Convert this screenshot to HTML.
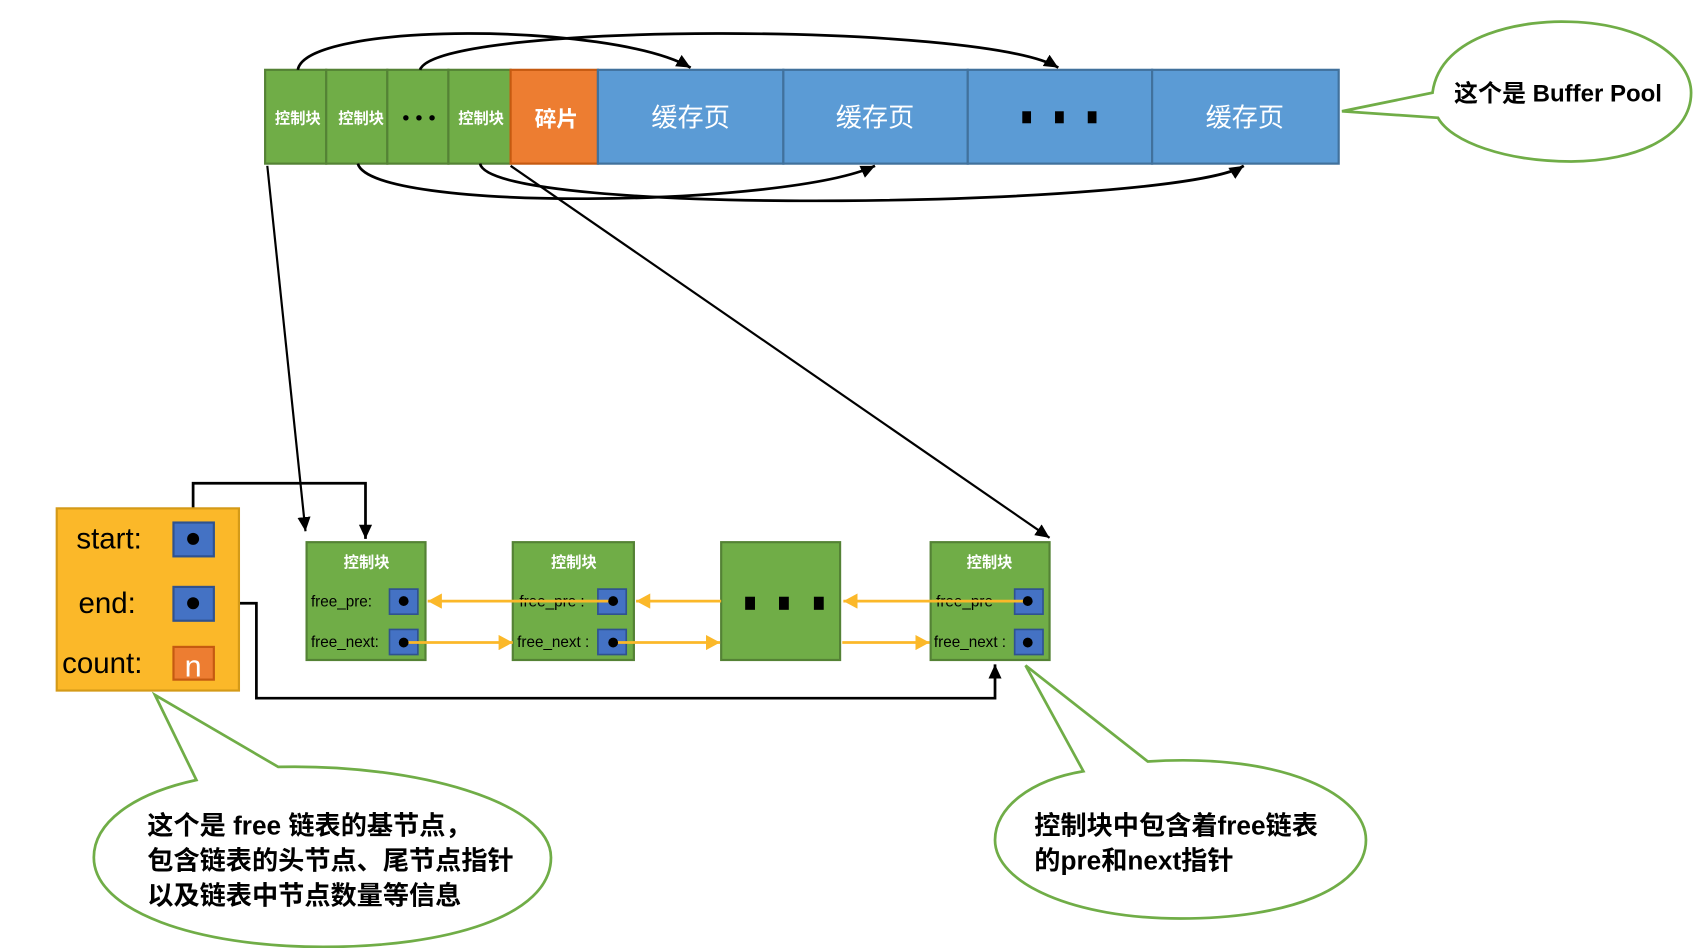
<!DOCTYPE html>
<html><head><meta charset="utf-8"><style>
html,body{margin:0;padding:0;background:#fff;}
svg{display:block;}
text{font-family:"Liberation Sans","Noto Sans CJK SC",sans-serif;}
</style></head><body>
<svg width="1702" height="948" viewBox="0 0 1560 869" preserveAspectRatio="none" xmlns="http://www.w3.org/2000/svg">
<defs>
<marker id="ab" markerWidth="14" markerHeight="14" refX="13" refY="6" orient="auto" markerUnits="userSpaceOnUse"><path d="M0,0 L13,6 L0,12 z" fill="#000"/></marker>
<marker id="ay" markerWidth="14" markerHeight="14" refX="13" refY="7" orient="auto" markerUnits="userSpaceOnUse"><path d="M0,0 L13,7 L0,14 z" fill="#fbb829"/></marker>
</defs>
<!-- bar -->
<g stroke="#548235" stroke-width="2">
<rect x="243" y="64" width="56" height="86" fill="#70ad47"/>
<rect x="299" y="64" width="56" height="86" fill="#70ad47"/>
<rect x="355" y="64" width="56" height="86" fill="#70ad47"/>
<rect x="411" y="64" width="57" height="86" fill="#70ad47"/>
</g>
<rect x="468" y="64" width="80" height="86" fill="#ed7d31" stroke="#c55a11" stroke-width="2"/>
<g fill="#5b9bd5" stroke="#41719c" stroke-width="2">
<rect x="548" y="64" width="170" height="86"/><rect x="718" y="64" width="169" height="86"/>
<rect x="887" y="64" width="169" height="86"/><rect x="1056" y="64" width="171" height="86"/>
</g>
<g fill="#fff" font-weight="bold" font-size="14" text-anchor="middle">
<text x="273" y="113">控制块</text><text x="331" y="113">控制块</text><text x="441" y="113">控制块</text>
</g>
<g fill="#000"><circle cx="372" cy="108" r="2.5"/><circle cx="384" cy="108" r="2.5"/><circle cx="396" cy="108" r="2.5"/></g>
<text x="510" y="116" text-anchor="middle" fill="#fff" font-size="20" font-weight="bold">碎片</text>
<g fill="#fff" font-size="24" text-anchor="middle">
<text x="633" y="116">缓存页</text><text x="802" y="116">缓存页</text><text x="1141" y="116">缓存页</text>
</g>
<g fill="#000"><rect x="937" y="102" width="8" height="11"/><rect x="967" y="102" width="8" height="11"/><rect x="997" y="102" width="8" height="11"/></g>
<!-- curves -->
<g fill="none" stroke="#000" stroke-width="2.5">
<path d="M273,64 C280,20 560,20 633,62" marker-end="url(#ab)"/>
<path d="M385,64 C400,20 900,20 970,62" marker-end="url(#ab)"/>
<path d="M328,150 C340,195 720,190 802,152" marker-end="url(#ab)"/>
<path d="M440,150 C450,200 1080,190 1140,152" marker-end="url(#ab)"/>
<path d="M468,152 L962,493" stroke-width="2" marker-end="url(#ab)"/>
<path d="M245,152 L280,487" stroke-width="2" marker-end="url(#ab)"/>
<path d="M177,494 L177,443 L335,443 L335,494" stroke-width="2.5" marker-end="url(#ab)"/>
<path d="M177,553 L235,553 L235,640 L912,640 L912,609" stroke-width="2.5" marker-end="url(#ab)"/>
</g>
<!-- top callout -->
<path d="M1313,85 C1320,30 1400,18 1440,20 C1510,22 1550,55 1550,85 C1550,125 1500,148 1440,148 C1380,148 1330,130 1318,108 L1230,102 Z" fill="#fff" stroke="#70ad47" stroke-width="2.5"/>
<text x="1428" y="93" text-anchor="middle" font-size="22" font-weight="bold">这个是 Buffer Pool</text>
<!-- yellow box -->
<rect x="52" y="466" width="167" height="167" fill="#fbb829" stroke="#d49a18" stroke-width="2"/>
<g font-size="27" fill="#000"><text x="70" y="503">start:</text><text x="72" y="562">end:</text><text x="57" y="617">count:</text></g>
<g fill="#4472c4" stroke="#2f528f" stroke-width="2"><rect x="159" y="479" width="37" height="31"/><rect x="159" y="538" width="37" height="31"/></g>
<rect x="159" y="593" width="37" height="30" fill="#ed7d31" stroke="#c55a11" stroke-width="2"/>
<text x="177" y="620" fill="#fff" font-size="28" text-anchor="middle">n</text>
<circle cx="177" cy="494" r="5.5"/><circle cx="177" cy="553" r="5.5"/>
<!-- nodes -->
<g fill="#70ad47" stroke="#548235" stroke-width="2">
<rect x="281" y="497" width="109" height="108"/><rect x="470" y="497" width="111" height="108"/>
<rect x="661" y="497" width="109" height="108"/><rect x="853" y="497" width="109" height="108"/>
</g>
<g fill="#fff" font-size="14" text-anchor="middle" font-weight="bold">
<text x="336" y="520">控制块</text><text x="526" y="520">控制块</text><text x="907" y="520">控制块</text>
</g>
<g fill="#000"><rect x="683" y="547" width="9" height="12"/><rect x="714" y="547" width="9" height="12"/><rect x="746" y="547" width="9" height="12"/></g>
<g font-size="14" fill="#000">
<text x="285" y="556">free_pre:</text><text x="285" y="593">free_next:</text>
<text x="476" y="556">free_pre :</text><text x="474" y="593">free_next :</text>
<text x="858" y="556">free_pre</text><text x="856" y="593">free_next :</text>
</g>
<g fill="#4472c4" stroke="#2f528f" stroke-width="1.5">
<rect x="357" y="540" width="26" height="23"/><rect x="357" y="577" width="26" height="23"/>
<rect x="548" y="540" width="26" height="23"/><rect x="548" y="577" width="26" height="23"/>
<rect x="930" y="540" width="26" height="23"/><rect x="930" y="577" width="26" height="23"/>
</g>
<g fill="none" stroke="#fbb829" stroke-width="2.5">
<path d="M562,551 L392,551" marker-end="url(#ay)"/>
<path d="M661,551 L583,551" marker-end="url(#ay)"/>
<path d="M942,551 L773,551" marker-end="url(#ay)"/>
<path d="M370,589 L470,589" marker-end="url(#ay)"/>
<path d="M562,589 L660,589" marker-end="url(#ay)"/>
<path d="M772,589 L852,589" marker-end="url(#ay)"/>
</g>
<g fill="#000"><circle cx="370" cy="551" r="4.5"/><circle cx="370" cy="589" r="4.5"/><circle cx="562" cy="551" r="4.5"/><circle cx="562" cy="589" r="4.5"/><circle cx="942" cy="551" r="4.5"/><circle cx="942" cy="589" r="4.5"/></g>
<!-- bottom-left callout -->
<path d="M180,715 L142,637 L255,703 C380,700 505,735 505,786 C505,840 410,868 296,868 C180,868 86,835 86,786 C86,755 120,728 180,715 Z" fill="#fff" stroke="#70ad47" stroke-width="2.5"/>
<g font-size="24" font-weight="bold" fill="#000">
<text x="135" y="765">这个是 free 链表的基节点，</text>
<text x="135" y="797">包含链表的头节点、尾节点指针</text>
<text x="135" y="829">以及链表中节点数量等信息</text>
</g>
<!-- bottom-right callout -->
<path d="M993,707 L940,610 L1052,698 C1180,690 1252,730 1252,770 C1252,815 1180,842 1082,842 C985,842 912,810 912,770 C912,740 945,715 993,707 Z" fill="#fff" stroke="#70ad47" stroke-width="2.5"/>
<g font-size="24" font-weight="bold" fill="#000">
<text x="948" y="765">控制块中包含着free链表</text>
<text x="948" y="797">的pre和next指针</text>
</g>
</svg>
</body></html>
